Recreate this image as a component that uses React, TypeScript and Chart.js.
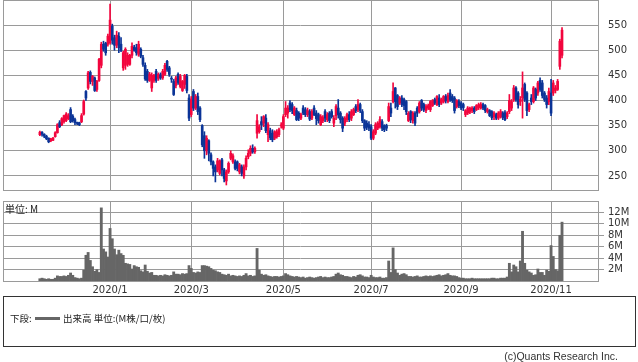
import React, { useEffect, useRef } from 'react';
import { Chart, registerables } from 'chart.js';

Chart.register(...registerables);

// ---- Data ----
// Trading-day counts per month shown (Nov 2019 from first listing day .. Nov 2020)
const monthLabels = ['2019/11', '2019/12', '2020/1', '2020/2', '2020/3', '2020/4', '2020/5', '2020/6', '2020/7', '2020/8', '2020/9', '2020/10', '2020/11'];
const tradingDaysPerMonth = [11, 21, 19, 18, 21, 21, 18, 22, 21, 20, 20, 21, 6];
const axisMonths = ['2020/1', '2020/3', '2020/5', '2020/7', '2020/9', '2020/11'];
const priceTicks = [250, 300, 350, 400, 450, 500, 550];
const volumeTicks = [2, 4, 6, 8, 10, 12];

const open = [
  332, 337, 333, 329, 325, 320, 321, 328, 336, 356,
  352, 358, 360, 364, 382, 369, 362, 356, 356, 358,
  373, 418, 425, 456, 438, 445, 422, 440, 470, 512,
  514, 512, 515, 548, 525, 510, 528, 512, 465, 470,
  472, 472, 490, 506, 505, 492, 502, 485, 470, 458,
  440, 425, 440, 458, 444, 451, 445, 452, 478, 465,
  444, 438, 430, 452, 428, 420, 432, 448, 405, 372,
  418, 385, 408, 385, 350, 330, 300, 320, 292, 278,
  268, 262, 255, 282, 262, 240, 258, 285, 278, 278,
  278, 258, 268, 250, 268, 288, 295, 305, 298, 335,
  338, 358, 355, 365, 332, 340, 335, 325, 328, 332,
  350, 345, 372, 375, 395, 392, 372, 380, 375, 365,
  385, 382, 372, 378, 365, 385, 375, 372, 352, 360,
  378, 362, 375, 378, 355, 370, 385, 375, 365, 355,
  362, 372, 365, 372, 388, 382, 392, 378, 360, 355,
  352, 348, 325, 335, 345, 348, 358, 350, 350, 360,
  385, 398, 425, 410, 395, 405, 402, 398, 360, 378,
  360, 375, 385, 378, 400, 392, 380, 385, 382, 390,
  402, 392, 405, 395, 398, 408, 398, 415, 408, 405,
  388, 398, 395, 392, 372, 375, 377, 380, 385, 382,
  386, 385, 392, 390, 378, 380, 378, 368, 372, 365,
  368, 375, 376, 368, 378, 385, 402, 425, 415, 398,
  405, 432, 415, 382, 405, 398, 422, 415, 440, 435,
  415, 405, 398, 415, 415, 420, 422, 468, 490,
];
const high = [
  339, 338, 334, 331, 326, 325, 327, 338, 354, 360,
  366, 371, 376, 374, 386, 372, 365, 357, 357, 374,
  401, 420, 458, 459, 450, 447, 440, 484, 516, 518,
  516, 532, 592, 552, 530, 538, 535, 525, 498, 505,
  495, 492, 515, 510, 512, 518, 505, 490, 475, 462,
  456, 455, 452, 462, 455, 455, 462, 474, 480, 468,
  448, 442, 448, 455, 452, 440, 452, 452, 412, 408,
  422, 412, 415, 388, 352, 338, 330, 322, 296, 280,
  272, 285, 282, 285, 265, 262, 278, 300, 294, 282,
  280, 275, 272, 272, 290, 302, 310, 312, 308, 372,
  352, 368, 370, 372, 356, 345, 342, 340, 342, 345,
  356, 372, 398, 390, 400, 396, 388, 385, 378, 375,
  390, 386, 385, 382, 382, 390, 380, 375, 372, 370,
  382, 376, 378, 382, 370, 392, 402, 378, 368, 368,
  375, 378, 382, 385, 392, 402, 395, 382, 362, 360,
  358, 352, 342, 356, 358, 368, 362, 352, 353, 395,
  395, 435, 426, 412, 408, 410, 405, 400, 378, 380,
  378, 378, 388, 398, 402, 395, 392, 393, 400, 402,
  405, 410, 412, 405, 410, 412, 415, 422, 412, 408,
  402, 402, 398, 395, 382, 388, 387, 388, 388, 392,
  395, 396, 395, 392, 385, 382, 380, 378, 375, 378,
  382, 378, 380, 378, 412, 402, 430, 428, 418, 408,
  457, 435, 418, 395, 412, 428, 425, 438, 445, 440,
  418, 410, 425, 442, 440, 430, 442, 522, 545,
];
const low = [
  330, 329, 326, 322, 316, 318, 320, 327, 335, 346,
  350, 355, 358, 362, 356, 357, 352, 352, 350, 356,
  371, 400, 422, 433, 430, 418, 418, 438, 465, 498,
  490, 508, 512, 512, 500, 505, 495, 497, 460, 462,
  468, 470, 485, 498, 490, 488, 485, 468, 440, 436,
  438, 418, 436, 436, 440, 442, 442, 450, 458, 448,
  436, 410, 425, 432, 425, 418, 424, 415, 360, 368,
  380, 382, 372, 358, 308, 285, 292, 280, 272, 250,
  238, 258, 252, 250, 238, 232, 255, 282, 275, 262,
  260, 254, 250, 245, 262, 284, 290, 295, 295, 325,
  335, 342, 348, 336, 318, 322, 318, 322, 325, 328,
  345, 342, 368, 365, 378, 374, 370, 360, 360, 362,
  372, 368, 368, 360, 362, 370, 352, 355, 350, 356,
  358, 358, 356, 365, 348, 362, 365, 355, 338, 350,
  358, 358, 360, 370, 376, 378, 376, 356, 340, 342,
  340, 322, 322, 332, 342, 345, 340, 338, 340, 358,
  368, 395, 385, 382, 392, 388, 382, 372, 358, 356,
  355, 350, 368, 375, 380, 378, 376, 382, 378, 388,
  392, 390, 388, 392, 395, 395, 395, 398, 396, 375,
  385, 386, 382, 380, 368, 372, 374, 376, 374, 380,
  382, 383, 382, 376, 375, 368, 362, 362, 362, 362,
  365, 362, 360, 364, 374, 380, 398, 398, 385, 390,
  365, 398, 370, 378, 392, 395, 400, 410, 418, 405,
  398, 385, 392, 370, 410, 415, 420, 462, 485,
];
const close = [
  337, 333, 329, 324, 318, 324, 325, 336, 352, 348,
  364, 370, 373, 370, 358, 360, 356, 355, 352, 370,
  398, 405, 455, 438, 448, 420, 438, 482, 512, 502,
  495, 528, 560, 520, 510, 530, 505, 500, 495, 502,
  490, 490, 508, 500, 495, 512, 488, 472, 443, 440,
  452, 450, 450, 440, 452, 445, 458, 470, 462, 452,
  443, 412, 445, 436, 448, 438, 450, 420, 365, 402,
  385, 408, 378, 362, 312, 300, 325, 295, 278, 265,
  258, 280, 280, 262, 245, 258, 275, 295, 290, 265,
  265, 272, 255, 268, 285, 295, 305, 298, 305, 360,
  348, 352, 368, 340, 352, 326, 322, 338, 338, 342,
  351, 368, 385, 385, 382, 380, 385, 362, 365, 372,
  375, 372, 380, 363, 378, 372, 364, 360, 368, 366,
  365, 372, 360, 368, 365, 388, 372, 362, 345, 365,
  372, 362, 378, 382, 380, 392, 380, 360, 345, 347,
  345, 325, 338, 352, 355, 362, 345, 342, 345, 388,
  375, 418, 398, 388, 405, 392, 390, 378, 375, 362,
  375, 355, 375, 395, 385, 382, 388, 390, 398, 400,
  395, 408, 392, 402, 408, 400, 410, 402, 400, 380,
  400, 390, 385, 386, 380, 385, 385, 385, 378, 390,
  392, 392, 385, 380, 382, 370, 366, 375, 365, 375,
  378, 366, 362, 375, 400, 398, 425, 402, 392, 402,
  425, 402, 380, 392, 398, 425, 405, 435, 422, 410,
  402, 392, 418, 375, 435, 425, 438, 518, 540,
];
// Volume in millions of shares
const volume = [
  0.4, 0.5, 0.4, 0.3, 0.4, 0.3, 0.3, 0.5, 0.9, 0.8,
  0.8, 0.9, 0.8, 1.0, 1.4, 1.0, 0.6, 0.5, 0.4, 0.5,
  1.9, 4.5, 5.0, 3.6, 2.5, 1.7, 2.0, 1.5, 12.8, 5.6,
  5.1, 4.2, 9.2, 7.4, 5.6, 4.6, 5.4, 4.8, 4.5, 3.1,
  3.0, 2.9, 2.1, 2.7, 2.5, 2.4, 1.8, 1.6, 2.8, 1.7,
  1.4, 1.5, 1.0, 1.0, 0.9, 1.0, 0.9, 1.1, 1.0, 0.9,
  1.0, 1.6, 1.2, 1.2, 1.1, 1.3, 1.2, 1.3, 2.7, 2.2,
  1.5, 1.4, 1.6, 1.5, 2.7, 2.7, 2.6, 2.5, 2.2, 1.9,
  1.8, 1.6, 1.5, 1.2, 1.1, 1.0, 1.2, 0.9, 1.0, 0.9,
  0.8, 0.9, 0.8, 1.0, 1.3, 0.9, 1.0, 0.8, 0.9, 5.7,
  1.9, 1.2, 1.0, 1.1, 0.9, 0.8, 0.7, 0.8, 0.8, 0.7,
  0.8, 0.9, 1.3, 1.1, 0.9, 0.8, 0.7, 0.8, 0.7, 0.6,
  0.7, 0.5, 0.6, 0.7, 0.6, 0.5, 0.6, 0.7, 0.8, 0.6,
  0.7, 0.6, 0.6, 0.7, 0.8, 1.2, 1.4, 1.1, 1.0, 0.8,
  0.8, 0.7, 0.6, 0.8, 0.7, 1.0, 1.1, 0.9, 0.7, 0.7,
  0.6, 1.0, 0.7, 0.6, 0.6, 0.7, 0.5, 0.5, 0.6, 3.5,
  1.5, 5.8, 2.0, 1.4, 1.0, 1.2, 1.3, 1.1, 0.8, 0.8,
  0.7, 0.8, 0.9, 0.7, 0.7, 0.8, 0.9, 0.8, 0.9, 0.8,
  0.9, 1.0, 1.1, 0.9, 1.0, 1.1, 1.3, 1.0, 0.9, 0.9,
  0.8, 0.6, 0.5, 0.5, 0.4, 0.4, 0.4, 0.5, 0.4, 0.4,
  0.4, 0.4, 0.4, 0.4, 0.4, 0.4, 0.5, 0.5, 0.4, 0.4,
  0.5, 0.5, 0.5, 0.7, 3.1, 1.6, 2.8, 2.5, 1.6, 3.5,
  8.7, 3.1, 1.9, 1.6, 1.4, 1.0, 1.1, 2.1, 1.5, 1.5,
  1.0, 1.9, 1.7, 6.2, 4.3, 2.0, 1.8, 8.0, 10.3,
];

// ---- Styles ----
const UP = '#f2063e';
const DOWN = '#0b3497';
const VOL = '#666666';
const GRID = '#9a9a9a';
const LABEL = '#333333';
const AXIS_FONT = { family: '"DejaVu Sans", sans-serif', size: 10 };
const JP_FONT = '"Noto Sans CJK JP", sans-serif';

const noPad = (s: any) => {
  s.paddingTop = 0;
  s.paddingBottom = 0;
  s.paddingLeft = 0;
  s.paddingRight = 0;
};

export default function App() {
  const priceRef = useRef<HTMLCanvasElement>(null);
  const volRef = useRef<HTMLCanvasElement>(null);

  useEffect(() => {
    const n = close.length;
    const days = close.map((_, i) => i);
    const colors = days.map((i) => (close[i] >= open[i] ? UP : DOWN));

    const monthStart: number[] = [];
    let acc = 0;
    for (const d of tradingDaysPerMonth) {
      monthStart.push(acc);
      acc += d;
    }
    const tickIdx = axisMonths.map((m) => monthStart[monthLabels.indexOf(m)]);
    const xMin = -16.8;
    const xMax = n - 1 + 16.4;

    const frame = {
      id: 'frame',
      beforeDatasetsDraw(chart: any) {
        const { ctx, chartArea: a } = chart;
        ctx.save();
        ctx.strokeStyle = GRID;
        ctx.lineWidth = 1;
        ctx.strokeRect(Math.round(a.left) + 0.5, Math.round(a.top) + 0.5, Math.round(a.right - a.left), Math.round(a.bottom - a.top));
        ctx.restore();
      },
    };

    const xScale = (showLabels: boolean) => ({
      type: 'linear',
      min: xMin,
      max: xMax,
      offset: false,
      afterBuildTicks: (s: any) => {
        s.ticks = tickIdx.map((v) => ({ value: v }));
      },
      ticks: {
        display: showLabels,
        autoSkip: false,
        maxRotation: 0,
        minRotation: 0,
        padding: 3,
        font: AXIS_FONT,
        color: LABEL,
        callback: (_v: any, i: number) => axisMonths[i],
      },
      grid: { color: GRID, drawTicks: false, offset: false, lineWidth: 1 },
      border: { display: false },
      afterFit: (s: any) => {
        s.height = showLabels ? 19 : 0;
        noPad(s);
      },
    });

    const wickData = days.map((i) => ({ x: i, y: [low[i], high[i]] }));
    const bodyData = days.map((i) => {
      let a = Math.min(open[i], close[i]);
      let b = Math.max(open[i], close[i]);
      if (b - a < 2) {
        const m = (a + b) / 2;
        a = m - 1;
        b = m + 1;
      }
      return { x: i, y: [a, b] };
    });

    const priceChart = new Chart(priceRef.current as HTMLCanvasElement, {
      type: 'bar',
      data: {
        datasets: [
          { data: wickData as any, backgroundColor: colors, barThickness: 1, grouped: false } as any,
          { data: bodyData as any, backgroundColor: colors, barThickness: 2, grouped: false } as any,
        ],
      },
      options: {
        animation: false,
        responsive: false,
        devicePixelRatio: 1,
        events: [],
        layout: { padding: { left: 3, top: 0, right: 0, bottom: 1 } },
        plugins: { legend: { display: false }, tooltip: { enabled: false } },
        scales: {
          x: xScale(false) as any,
          y: {
            type: 'linear',
            position: 'right',
            min: 222,
            max: 600,
            beginAtZero: false,
            afterBuildTicks: (s: any) => {
              s.ticks = priceTicks.map((v) => ({ value: v }));
            },
            ticks: { padding: 10, font: AXIS_FONT, color: LABEL },
            grid: { color: GRID, drawTicks: false, lineWidth: 1 },
            border: { display: false },
            afterFit: (s: any) => {
              s.width = 40;
              noPad(s);
            },
          } as any,
        },
      },
      plugins: [frame],
    });

    const volChart = new Chart(volRef.current as HTMLCanvasElement, {
      type: 'bar',
      data: {
        datasets: [
          {
            data: days.map((i) => ({ x: i, y: volume[i] })) as any,
            backgroundColor: VOL,
            barPercentage: 1,
            categoryPercentage: 1,
            grouped: false,
          } as any,
        ],
      },
      options: {
        animation: false,
        responsive: false,
        devicePixelRatio: 1,
        events: [],
        layout: { padding: { left: 3, top: 6, right: 0, bottom: 0 } },
        plugins: { legend: { display: false }, tooltip: { enabled: false } },
        scales: {
          x: xScale(true) as any,
          y: {
            type: 'linear',
            position: 'right',
            min: 0,
            max: 14,
            afterBuildTicks: (s: any) => {
              s.ticks = volumeTicks.map((v) => ({ value: v }));
            },
            ticks: { padding: 4, font: AXIS_FONT, color: LABEL, callback: (v: any) => v + 'M' },
            grid: { color: GRID, drawTicks: true, tickLength: 6, lineWidth: 1 },
            border: { display: false },
            afterFit: (s: any) => {
              s.width = 40;
              noPad(s);
            },
          } as any,
        },
      },
      plugins: [frame],
    });

    return () => {
      priceChart.destroy();
      volChart.destroy();
    };
  }, []);

  return (
    <div style={{ position: 'absolute', left: 0, top: 0, width: 638, height: 362, background: '#fff', overflow: 'hidden' }}>
      <canvas ref={priceRef} width={638} height={191} style={{ position: 'absolute', left: 0, top: 0, width: 638, height: 191 }} />
      <canvas ref={volRef} width={638} height={105} style={{ position: 'absolute', left: 0, top: 195, width: 638, height: 105 }} />
      <div style={{ position: 'absolute', left: 5, top: 203, font: `10px ${JP_FONT}`, lineHeight: '12px', color: '#222', whiteSpace: 'nowrap' }}>
        単位: M
      </div>
      <div
        style={{
          position: 'absolute',
          left: 3,
          top: 296,
          width: 633,
          height: 51,
          boxSizing: 'border-box',
          border: '1px solid #333',
        }}
      />
      <div style={{ position: 'absolute', left: 10, top: 312, font: `9.5px ${JP_FONT}`, lineHeight: '12px', color: '#222', whiteSpace: 'nowrap' }}>
        下段:
      </div>
      <div style={{ position: 'absolute', left: 35, top: 317, width: 25, height: 3, background: VOL }} />
      <div style={{ position: 'absolute', left: 63, top: 312, font: `9.5px ${JP_FONT}`, lineHeight: '12px', color: '#222', whiteSpace: 'nowrap' }}>
        出来高 単位:(M株/口/枚)
      </div>
      <div
        style={{
          position: 'absolute',
          right: 20,
          top: 350,
          font: '10.5px "Liberation Sans", sans-serif',
          lineHeight: '12px',
          color: '#333',
          whiteSpace: 'nowrap',
        }}
      >
        (c)Quants Research Inc.
      </div>
    </div>
  );
}
